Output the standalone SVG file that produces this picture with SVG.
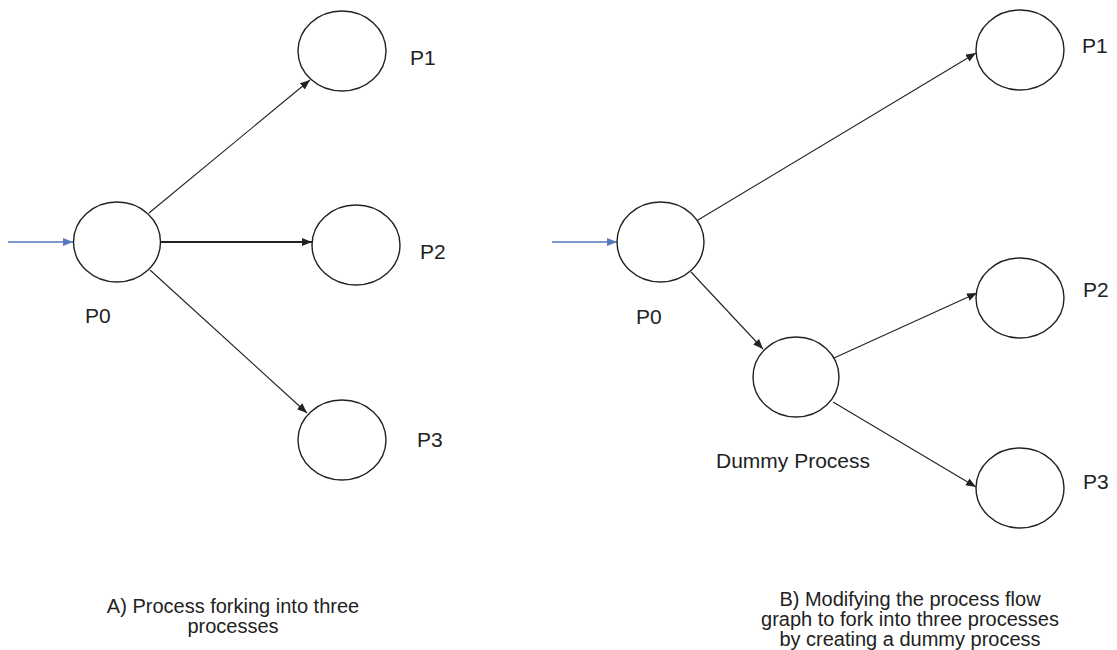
<svg xmlns="http://www.w3.org/2000/svg" width="1117" height="650" viewBox="0 0 1117 650">
  <style>
    .node { fill: #ffffff; stroke: #222222; stroke-width: 1.4; }
    .edge { stroke: #222222; stroke-width: 1.1; fill: none; }
    .edge.bold { stroke-width: 2; }
    .entry { stroke: #5577bb; stroke-width: 1.3; fill: none; }
    .lbl { font-family: "Liberation Sans", Arial, sans-serif; font-size: 21px; fill: #222222; }
    .cap { font-family: "Liberation Sans", Arial, sans-serif; font-size: 20px; fill: #222222; text-anchor: middle; }
  </style>
  <defs>
    <marker id="arrow" markerUnits="userSpaceOnUse" markerWidth="12" markerHeight="10" refX="10" refY="4" orient="auto">
      <path d="M0,0 L10,4 L0,8 z" fill="#222222"/>
    </marker>
    <marker id="arrow-blue" markerUnits="userSpaceOnUse" markerWidth="12" markerHeight="10" refX="10" refY="4" orient="auto">
      <path d="M0,0 L10,4 L0,8 z" fill="#5577bb"/>
    </marker>
  </defs>

  <rect width="1117" height="650" fill="#ffffff"/>

  <!-- connectors -->
  <g id="connectors">
    <!-- A) direct fork -->
    <line class="entry" x1="8" y1="242" x2="73" y2="242" marker-end="url(#arrow-blue)"/>
    <line class="edge" x1="149" y1="213" x2="310" y2="80" marker-end="url(#arrow)"/>
    <line class="edge bold" x1="160" y1="242" x2="312" y2="242" marker-end="url(#arrow)"/>
    <line class="edge" x1="150" y1="270" x2="307" y2="413" marker-end="url(#arrow)"/>
    <!-- B) fork through a dummy process -->
    <line class="entry" x1="552" y1="242" x2="617" y2="242" marker-end="url(#arrow-blue)"/>
    <line class="edge" x1="698" y1="220" x2="976" y2="53" marker-end="url(#arrow)"/>
    <line class="edge" x1="691" y1="272" x2="763" y2="349" marker-end="url(#arrow)"/>
    <line class="edge" x1="834" y1="358" x2="977" y2="293" marker-end="url(#arrow)"/>
    <line class="edge" x1="833" y1="402" x2="976" y2="487" marker-end="url(#arrow)"/>
  </g>

  <!-- A) nodes -->
  <g id="a-p0">
    <ellipse class="node" cx="117" cy="242" rx="43.5" ry="40"/>
    <text class="lbl" x="85" y="323">P0</text>
  </g>
  <g id="a-p1">
    <ellipse class="node" cx="342" cy="51" rx="44" ry="40"/>
    <text class="lbl" x="410" y="65">P1</text>
  </g>
  <g id="a-p2">
    <ellipse class="node" cx="356" cy="245" rx="44" ry="40"/>
    <text class="lbl" x="420" y="259">P2</text>
  </g>
  <g id="a-p3">
    <ellipse class="node" cx="342" cy="440" rx="44" ry="40"/>
    <text class="lbl" x="417" y="447">P3</text>
  </g>

  <!-- B) nodes -->
  <g id="b-p0">
    <ellipse class="node" cx="660.5" cy="242" rx="43.5" ry="40"/>
    <text class="lbl" x="636" y="324">P0</text>
  </g>
  <g id="b-dummy">
    <ellipse class="node" cx="796" cy="377" rx="43" ry="40"/>
    <text class="lbl" x="793" y="468" text-anchor="middle">Dummy Process</text>
  </g>
  <g id="b-p1">
    <ellipse class="node" cx="1020" cy="50" rx="44" ry="40"/>
    <text class="lbl" x="1082" y="53">P1</text>
  </g>
  <g id="b-p2">
    <ellipse class="node" cx="1020" cy="298" rx="44" ry="40"/>
    <text class="lbl" x="1083" y="297">P2</text>
  </g>
  <g id="b-p3">
    <ellipse class="node" cx="1020" cy="488" rx="44" ry="40"/>
    <text class="lbl" x="1083" y="489">P3</text>
  </g>

  <!-- captions -->
  <g id="caption-a">
    <text class="cap" x="233" y="613">A) Process forking into three</text>
    <text class="cap" x="233" y="633">processes</text>
  </g>
  <g id="caption-b">
    <text class="cap" x="910" y="606">B) Modifying the process flow</text>
    <text class="cap" x="910" y="626">graph to fork into three processes</text>
    <text class="cap" x="910" y="646">by creating a dummy process</text>
  </g>
</svg>
